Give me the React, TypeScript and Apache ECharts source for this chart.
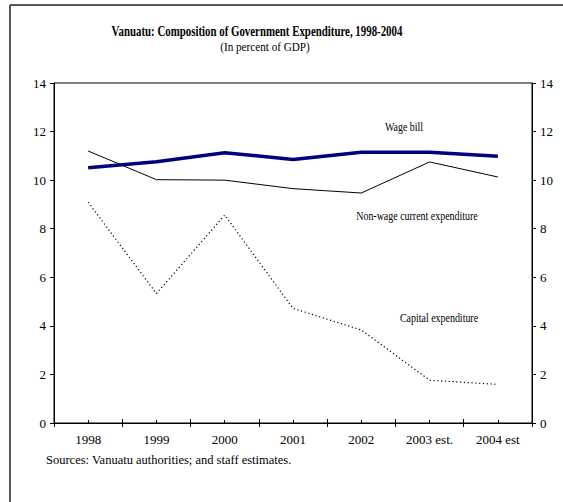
import React, { useEffect, useRef } from "react";
import * as echarts from "echarts";

const categories = ["1998", "1999", "2000", "2001", "2002", "2003 est.", "2004 est"];
const wageBill = [10.51, 10.76, 11.13, 10.85, 11.15, 11.15, 10.98];
const nonWageCurrent = [11.2, 10.02, 10.0, 9.65, 9.47, 10.75, 10.13];
const capitalExpenditure = [9.09, 5.33, 8.56, 4.72, 3.83, 1.76, 1.59];

const titleText = "Vanuatu: Composition of Government Expenditure, 1998-2004";
const subtitleText = "(In percent of GDP)";
const sourceText = "Sources: Vanuatu authorities; and staff estimates.";

const FONT = "Liberation Serif";

export default function App() {
  const ref = useRef<HTMLDivElement>(null);
  useEffect(() => {
    if (!ref.current) return;
    const chart = echarts.init(ref.current, undefined, { renderer: "svg" });
    const axisLabel = { color: "#000", fontFamily: FONT, fontSize: 13 };
    const lineStyle = { color: "#000", width: 1 };
    const txt = (
      text: string,
      x: number,
      y: number,
      size: number,
      sx: number,
      align: string,
      weight = "normal"
    ) => ({
      type: "text",
      x,
      y,
      scaleX: sx,
      style: {
        text,
        fill: "#000",
        fontFamily: FONT,
        fontSize: size,
        fontWeight: weight,
        textAlign: align,
        textVerticalAlign: "middle",
      },
    });
    chart.setOption({
      animation: false,
      backgroundColor: "#fff",
      textStyle: { fontFamily: FONT },
      grid: {
        left: 54,
        right: 31,
        top: 83,
        bottom: 79,
        show: true,
        borderColor: "#000",
        borderWidth: 1,
      },
      xAxis: [
        {
          type: "category",
          data: categories,
          boundaryGap: true,
          axisLine: { lineStyle },
          axisTick: { show: true, alignWithLabel: false, length: 4, lineStyle },
          axisLabel: { ...axisLabel, margin: 10 },
          splitLine: { show: false },
        },
        {
          type: "category",
          data: categories,
          position: "bottom",
          boundaryGap: true,
          axisLine: { show: false },
          axisTick: { show: true, inside: true, alignWithLabel: false, length: 4, lineStyle },
          axisLabel: { show: false },
        },
        {
          type: "category",
          data: categories,
          position: "bottom",
          boundaryGap: true,
          axisLine: { show: false },
          axisTick: { show: true, inside: true, alignWithLabel: true, length: 3, lineStyle },
          axisLabel: { show: false },
        },
      ],
      yAxis: [
        {
          type: "value",
          min: 0,
          max: 14,
          interval: 2,
          position: "left",
          axisLine: { show: true, lineStyle },
          axisTick: { show: true, length: 4, lineStyle },
          axisLabel: { ...axisLabel, margin: 8 },
          splitLine: { show: false },
        },
        {
          type: "value",
          min: 0,
          max: 14,
          interval: 2,
          position: "right",
          axisLine: { show: true, lineStyle },
          axisTick: { show: true, length: 4, lineStyle },
          axisLabel: { ...axisLabel, margin: 8 },
          splitLine: { show: false },
        },
      ],
      series: [
        {
          name: "Non-wage current expenditure",
          type: "line",
          data: nonWageCurrent,
          symbol: "none",
          lineStyle: { color: "#000", width: 1 },
          z: 2,
        },
        {
          name: "Capital expenditure",
          type: "line",
          data: capitalExpenditure,
          symbol: "none",
          lineStyle: { color: "#000", width: 1.2, type: [1.2, 2.6] },
          z: 2,
        },
        {
          name: "Wage bill",
          type: "line",
          data: wageBill,
          symbol: "none",
          lineStyle: { color: "#000080", width: 3.5 },
          z: 3,
        },
      ],
      graphic: [
        {
          type: "line",
          shape: { x1: 10, y1: 5, x2: 563, y2: 5 },
          style: { stroke: "#222", lineWidth: 1.5 },
        },
        {
          type: "line",
          shape: { x1: 10, y1: 5, x2: 10, y2: 502 },
          style: { stroke: "#222", lineWidth: 1.5 },
        },
        txt(titleText, 257, 31, 14.5, 0.75, "center", "bold"),
        txt(subtitleText, 265, 47, 13, 0.86, "center"),
        txt("Wage bill", 404, 127, 12, 0.83, "center"),
        txt("Non-wage current expenditure", 417, 216, 12, 0.83, "center"),
        txt("Capital expenditure", 439, 318, 12, 0.83, "center"),
        txt(sourceText, 46, 460, 12.5, 1, "left"),
      ],
    });
    return () => chart.dispose();
  }, []);
  return (
    <div
      ref={ref}
      style={{ position: "fixed", left: 0, top: 0, width: 563, height: 502, background: "#fff" }}
    />
  );
}
